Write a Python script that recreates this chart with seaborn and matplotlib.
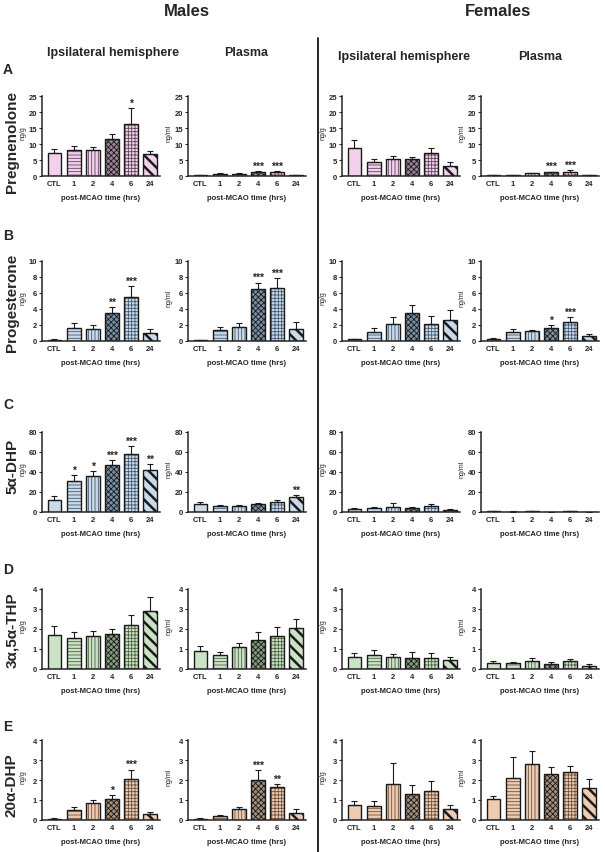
import numpy as np
import pandas as pd
import matplotlib.pyplot as plt
import seaborn as sns
from matplotlib.lines import Line2D

times = ['CTL', '1', '2', '4', '6', '24']

# A. Pregnenolone
preg_m_brain = [7.3, 8.0, 8.0, 11.6, 16.4, 6.9]
preg_m_brain_sem = [1.1, 1.3, 1.2, 1.4, 4.7, 1.0]
preg_m_brain_sig = ['', '', '', '', '*', '']
preg_m_plasma = [0.2, 0.6, 0.6, 1.3, 1.3, 0.3]
preg_m_plasma_sem = [0.1, 0.2, 0.2, 0.2, 0.3, 0.1]
preg_m_plasma_sig = ['', '', '', '***', '***', '']
preg_f_brain = [8.9, 4.3, 5.3, 5.3, 7.3, 3.2]
preg_f_brain_sem = [2.3, 1.1, 0.9, 0.5, 1.5, 1.3]
preg_f_brain_sig = ['', '', '', '', '', '']
preg_f_plasma = [0.3, 0.3, 0.8, 1.2, 1.4, 0.3]
preg_f_plasma_sem = [0.1, 0.1, 0.2, 0.2, 0.4, 0.1]
preg_f_plasma_sig = ['', '', '', '***', '***', '']

# B. Progesterone
prog_m_brain = [0.15, 1.68, 1.47, 3.5, 5.55, 0.97]
prog_m_brain_sem = [0.05, 0.6, 0.5, 0.7, 1.3, 0.5]
prog_m_brain_sig = ['', '', '', '**', '***', '']
prog_m_plasma = [0.1, 1.39, 1.76, 6.5, 6.6, 1.55]
prog_m_plasma_sem = [0.05, 0.4, 0.45, 0.8, 1.3, 0.85]
prog_m_plasma_sig = ['', '', '', '***', '***', '']
prog_f_brain = [0.2, 1.18, 2.1, 3.45, 2.18, 2.6]
prog_f_brain_sem = [0.05, 0.42, 0.9, 1.1, 1.0, 1.25]
prog_f_brain_sig = ['', '', '', '', '', '']
prog_f_plasma = [0.3, 1.13, 1.2, 1.64, 2.4, 0.6]
prog_f_plasma_sem = [0.05, 0.42, 0.12, 0.35, 0.55, 0.25]
prog_f_plasma_sig = ['', '', '', '*', '***', '']

# C. 5a-DHP
dhp_m_brain = [12, 31, 36, 47, 58.3, 41.7]
dhp_m_brain_sem = [4, 6, 5, 5, 7.7, 6]
dhp_m_brain_sig = ['', '*', '*', '***', '***', '**']
dhp_m_plasma = [7.7, 5.7, 6.0, 7.7, 9.7, 14.7]
dhp_m_plasma_sem = [2.3, 1.0, 1.0, 1.0, 2.3, 2.0]
dhp_m_plasma_sig = ['', '', '', '', '', '**']
dhp_f_brain = [3.0, 3.7, 5.4, 4.4, 6.0, 2.4]
dhp_f_brain_sem = [1.0, 1.0, 3.7, 0.7, 1.7, 1.0]
dhp_f_brain_sig = ['', '', '', '', '', '']
dhp_f_plasma = [0.6, 0.4, 0.7, 0.3, 1.0, 0.2]
dhp_f_plasma_sem = [0.3, 0.2, 0.3, 0.1, 0.5, 0.1]
dhp_f_plasma_sig = ['', '', '', '', '', '']

# D. 3a,5a-THP
thp_m_brain = [1.68, 1.53, 1.65, 1.76, 2.2, 2.88]
thp_m_brain_sem = [0.48, 0.32, 0.25, 0.22, 0.52, 0.72]
thp_m_brain_sig = ['', '', '', '', '', '']
thp_m_plasma = [0.9, 0.68, 1.1, 1.47, 1.64, 2.05]
thp_m_plasma_sem = [0.27, 0.18, 0.2, 0.36, 0.48, 0.43]
thp_m_plasma_sig = ['', '', '', '', '', '']
thp_f_brain = [0.58, 0.72, 0.62, 0.57, 0.56, 0.47]
thp_f_brain_sem = [0.2, 0.25, 0.12, 0.3, 0.22, 0.13]
thp_f_brain_sig = ['', '', '', '', '', '']
thp_f_plasma = [0.32, 0.3, 0.38, 0.27, 0.38, 0.17]
thp_f_plasma_sem = [0.07, 0.07, 0.17, 0.08, 0.14, 0.1]
thp_f_plasma_sig = ['', '', '', '', '', '']

# E. 20a-DHP
dhp20_m_brain = [0.06, 0.5, 0.84, 1.06, 2.03, 0.28]
dhp20_m_brain_sem = [0.06, 0.14, 0.15, 0.18, 0.49, 0.11]
dhp20_m_brain_sig = ['', '', '', '*', '***', '']
dhp20_m_plasma = [0.06, 0.2, 0.55, 1.98, 1.63, 0.35]
dhp20_m_plasma_sem = [0.04, 0.05, 0.12, 0.5, 0.17, 0.19]
dhp20_m_plasma_sig = ['', '', '', '***', '**', '']
dhp20_f_brain = [0.76, 0.72, 1.78, 1.28, 1.45, 0.55]
dhp20_f_brain_sem = [0.21, 0.22, 1.08, 0.47, 0.5, 0.19]
dhp20_f_brain_sig = ['', '', '', '', '', '']
dhp20_f_plasma = [1.06, 2.08, 2.81, 2.29, 2.4, 1.61]
dhp20_f_plasma_sem = [0.13, 1.06, 0.64, 0.35, 0.32, 0.44]
dhp20_f_plasma_sig = ['', '', '', '', '', '']

row_names = ['Pregnenolone', 'Progesterone', '5α-DHP', '3α,5α-THP', '20α-DHP']
row_letters = ['A', 'B', 'C', 'D', 'E']
row_ymax = [25, 10, 80, 4, 4]
row_step = [5, 2, 20, 1, 1]
row_light = ['#f9cbf1', '#c4dbef', '#c4dbef', '#c9e7c1', '#f8c9a7']
row_dark = ['#a07d98', '#6f8fab', '#6f8fab', '#809f78', '#ab8c72']
row_hatch = ['#5e4459', '#44596e', '#44596e', '#4a6244', '#6a513e']

panels = [
    [(preg_m_brain, preg_m_brain_sem, preg_m_brain_sig),
     (preg_m_plasma, preg_m_plasma_sem, preg_m_plasma_sig),
     (preg_f_brain, preg_f_brain_sem, preg_f_brain_sig),
     (preg_f_plasma, preg_f_plasma_sem, preg_f_plasma_sig)],
    [(prog_m_brain, prog_m_brain_sem, prog_m_brain_sig),
     (prog_m_plasma, prog_m_plasma_sem, prog_m_plasma_sig),
     (prog_f_brain, prog_f_brain_sem, prog_f_brain_sig),
     (prog_f_plasma, prog_f_plasma_sem, prog_f_plasma_sig)],
    [(dhp_m_brain, dhp_m_brain_sem, dhp_m_brain_sig),
     (dhp_m_plasma, dhp_m_plasma_sem, dhp_m_plasma_sig),
     (dhp_f_brain, dhp_f_brain_sem, dhp_f_brain_sig),
     (dhp_f_plasma, dhp_f_plasma_sem, dhp_f_plasma_sig)],
    [(thp_m_brain, thp_m_brain_sem, thp_m_brain_sig),
     (thp_m_plasma, thp_m_plasma_sem, thp_m_plasma_sig),
     (thp_f_brain, thp_f_brain_sem, thp_f_brain_sig),
     (thp_f_plasma, thp_f_plasma_sem, thp_f_plasma_sig)],
    [(dhp20_m_brain, dhp20_m_brain_sem, dhp20_m_brain_sig),
     (dhp20_m_plasma, dhp20_m_plasma_sem, dhp20_m_plasma_sig),
     (dhp20_f_brain, dhp20_f_brain_sem, dhp20_f_brain_sig),
     (dhp20_f_plasma, dhp20_f_plasma_sem, dhp20_f_plasma_sig)],
]
units = ['ng/g', 'ng/ml', 'ng/g', 'ng/ml']
hatches = ['', '-----', '|||||', 'xxxxxx', '+++++', '\\\\\\']

sns.set_style('ticks')
plt.rcParams['font.family'] = ['Liberation Sans', 'DejaVu Sans']
plt.rcParams['hatch.linewidth'] = 0.6

W, H = 605, 853
fig = plt.figure(figsize=(W / 100, H / 100), dpi=100)

col_left = [42, 188, 342, 481]
row_top = [97, 262, 433, 590, 741]
ax_w, ax_h = 118, 80


def draw_panel(ax, vals, sems, sig, r, unit):
    ymax = row_ymax[r]
    df = pd.DataFrame({'time': times, 'val': vals})
    faces = [row_light[r]] * 6
    faces[3] = row_dark[r]
    sns.barplot(data=df, x='time', y='val', hue='time', palette=faces,
                legend=False, width=0.72, linewidth=0, ax=ax)
    for i, p in enumerate(ax.patches):
        p.set_hatch(hatches[i])
        p.set_edgecolor('#1a1a1a' if i in (3, 5) else row_hatch[r])
        if i == 5 and hasattr(p, 'set_hatch_linewidth'):
            p.set_hatch_linewidth(1.8)
    sns.barplot(data=df, x='time', y='val', fill=False, color='#1a1a1a',
                width=0.72, linewidth=1.0, ax=ax)
    ax.errorbar(range(6), vals, yerr=[np.zeros(6), sems], fmt='none',
                ecolor='#1a1a1a', elinewidth=0.8, capsize=2, capthick=0.8)
    for i, s in enumerate(sig):
        if s:
            ax.text(i, vals[i] + sems[i] + ymax * 0.005, s, ha='center',
                    va='bottom', fontsize=7.5, fontweight='bold', clip_on=False)
    sns.despine(ax=ax)
    for sp in ['left', 'bottom']:
        ax.spines[sp].set_linewidth(1.1)
    ax.set_xlim(-0.65, 5.5)
    ax.set_ylim(0, ymax)
    ax.set_yticks(np.arange(0, ymax + row_step[r] / 2, row_step[r]))
    ax.tick_params(axis='y', length=2, width=0.8, labelsize=5.5, pad=1.5)
    ax.tick_params(axis='x', length=0, labelsize=5.5, pad=3)
    for lab in ax.get_xticklabels() + ax.get_yticklabels():
        lab.set_fontweight('bold')
    ax.set_xlabel('post-MCAO time (hrs)', fontsize=5.5, fontweight='bold', labelpad=5)
    ax.set_ylabel(unit, fontsize=5)
    ax.yaxis.set_label_coords(-0.135, 0.55)


for r in range(5):
    for c in range(4):
        ax = fig.add_axes([col_left[c] / W, 1 - (row_top[r] + ax_h) / H, ax_w / W, ax_h / H])
        vals, sems, sig = panels[r][c]
        draw_panel(ax, vals, sems, sig, r, units[c])

# row labels and letters
letter_y = [70, 236, 405, 570, 727]
name_y = [142, 303, 466, 630, 785]
for r in range(5):
    fig.text(8 / W, 1 - letter_y[r] / H, row_letters[r], fontsize=10, fontweight='bold',
             ha='center', va='center')
    fig.text(12 / W, 1 - name_y[r] / H, row_names[r], fontsize=11, fontweight='bold',
             rotation=90, ha='center', va='center')

# headers
fig.text(187 / W, 1 - 11 / H, 'Males', fontsize=12, fontweight='bold', ha='center', va='center')
fig.text(498 / W, 1 - 11 / H, 'Females', fontsize=12, fontweight='bold', ha='center', va='center')
fig.text(113 / W, 1 - 53 / H, 'Ipsilateral hemisphere', fontsize=9, fontweight='bold', ha='center', va='center')
fig.text(246 / W, 1 - 53 / H, 'Plasma', fontsize=9, fontweight='bold', ha='center', va='center')
fig.text(404 / W, 1 - 57 / H, 'Ipsilateral hemisphere', fontsize=9, fontweight='bold', ha='center', va='center')
fig.text(540 / W, 1 - 57 / H, 'Plasma', fontsize=9, fontweight='bold', ha='center', va='center')

fig.add_artist(Line2D([318 / W, 318 / W], [1 - 39 / H, 0], transform=fig.transFigure,
                      color='black', linewidth=1.2))

fig.savefig('out.png', dpi=100)
